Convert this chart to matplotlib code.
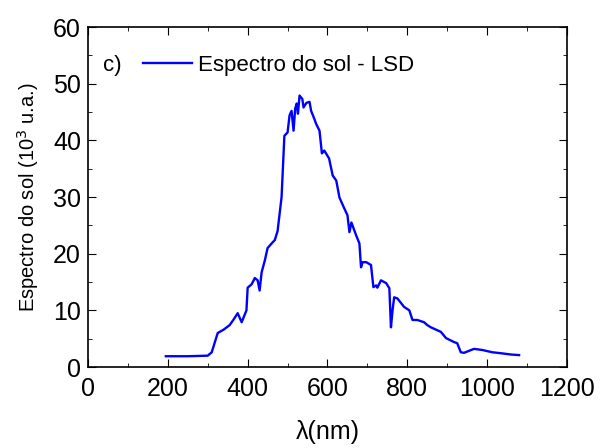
import numpy as np
import matplotlib.pyplot as plt
from matplotlib.ticker import MultipleLocator

plt.rcParams['font.family'] = ['Liberation Sans', 'DejaVu Sans']

# wavelength (nm) and solar spectrum (10^3 a.u.)
wl = [195, 250, 300, 310, 325, 340, 355, 365, 375, 385, 397, 400, 410, 418, 425,
      430, 435, 443, 450, 460, 468, 475, 480, 485, 492, 500, 505, 510, 515, 519,
      523, 526, 530, 537, 540, 547, 555, 559, 567, 571, 580, 586, 592, 604, 613,
      622, 630, 642, 650, 655, 660, 672, 680, 684, 688, 697, 709, 715, 722, 725,
      734, 747, 755, 759, 763, 767, 775, 792, 805, 813, 825, 842, 850, 859, 884,
      897, 917, 925, 934, 942, 967, 988, 1013, 1038, 1060, 1080]
sp = [1.9, 1.9, 2.0, 2.6, 6.0, 6.6, 7.4, 8.4, 9.5, 7.9, 10.0, 14.0, 14.6, 15.7, 15.3,
      13.5, 16.7, 18.8, 21.0, 21.8, 22.4, 24.0, 27.0, 30.0, 40.8, 41.4, 44.4, 45.2, 41.7, 45.6,
      46.5, 44.7, 47.9, 47.3, 45.8, 46.6, 46.8, 45.2, 43.8, 43.0, 41.7, 37.7, 38.2, 36.8, 33.8,
      32.9, 29.9, 28.0, 26.8, 23.8, 25.5, 23.2, 21.8, 17.6, 18.5, 18.5, 18.0, 14.1, 14.4, 14.0,
      15.3, 14.8, 13.9, 7.0, 10.0, 12.3, 12.1, 10.6, 10.0, 8.3, 8.3, 7.9, 7.4, 7.0, 6.2,
      5.1, 4.4, 4.2, 2.6, 2.5, 3.2, 3.0, 2.6, 2.4, 2.2, 2.1]

fig = plt.figure(figsize=(6.01, 4.48), dpi=100)
ax = fig.add_axes([0.1464, 0.1808, 0.9434 - 0.1464, 0.9397 - 0.1808])

ax.plot(wl, sp, color='#0000ff', linewidth=1.7, label='Espectro do sol - LSD')

ax.set_xlim(0, 1200)
ax.set_ylim(0, 60)
ax.xaxis.set_major_locator(MultipleLocator(200))
ax.xaxis.set_minor_locator(MultipleLocator(100))
ax.yaxis.set_major_locator(MultipleLocator(10))
ax.yaxis.set_minor_locator(MultipleLocator(5))
ax.tick_params(which='both', direction='in', top=True, right=True, labelsize=18)
ax.tick_params(axis='x', which='major', pad=7)
ax.tick_params(axis='y', which='major', pad=5)
ax.tick_params(which='major', length=6)
ax.tick_params(which='minor', length=3)
for s in ax.spines.values():
    s.set_linewidth(1.2)

ax.set_xlabel('λ(nm)', fontsize=18)
ax.set_ylabel('Espectro do sol (10$^3$ u.a.)', fontsize=14.5)
ax.xaxis.set_label_coords(0.5, -0.157)
ax.yaxis.set_label_coords(-0.099, 0.5)

ax.legend(loc='center left', bbox_to_anchor=(0.1148, 0.888), frameon=False,
          fontsize=16, handlelength=2.2, handletextpad=0.27, borderpad=0,
          borderaxespad=0)
ax.text(0.031, 0.888, 'c)', transform=ax.transAxes, fontsize=16, va='center')

fig.savefig('out.png', dpi=100)
